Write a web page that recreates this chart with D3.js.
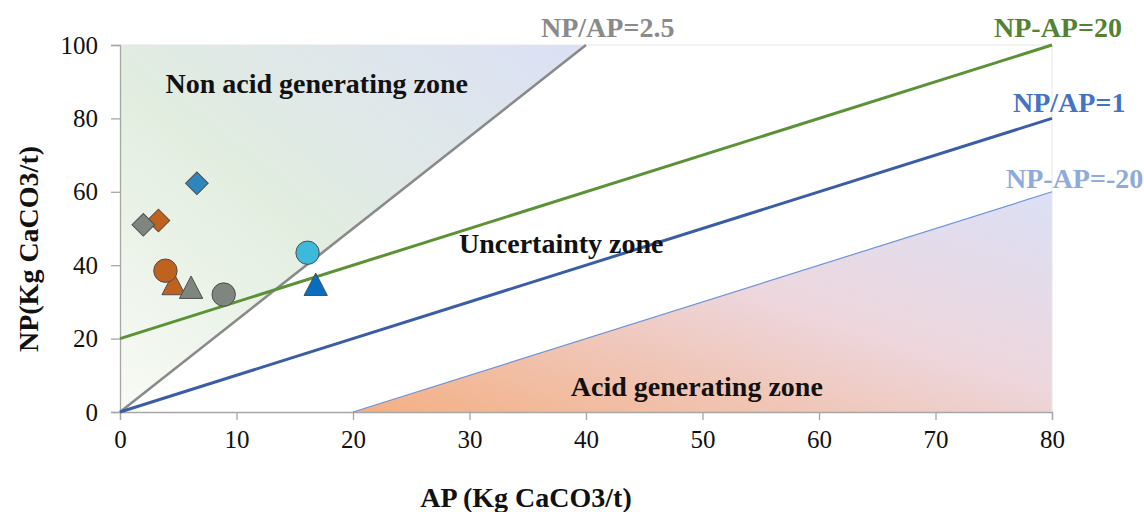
<!DOCTYPE html>
<html>
<head>
<meta charset="utf-8">
<script src="https://cdn.jsdelivr.net/npm/d3@7"></script>
<style>
  body { margin: 0; background: #fff; }
  text { font-family: "Liberation Serif", "Times New Roman", serif; }
</style>
</head>
<body>
<div class="svg"></div>
<script>
// samples (AP, NP in kg CaCO3/t), drawn in this order
var sampleAP    = [6.6, 3.3, 2.0, 4.6, 3.9, 6.1, 8.9, 16.1, 16.8];
var sampleNP    = [62.3, 52.2, 51.0, 35.0, 38.5, 34.0, 32.0, 43.4, 34.8];
var sampleShape = ['diamond', 'diamond', 'diamond', 'triangle', 'circle', 'triangle', 'circle', 'circle', 'triangle'];
var sampleColor = ['#2E86BE', '#C0621F', '#7F857F', '#C0621F', '#C0621F', '#7F857F', '#7F857F', '#3DBAD9', '#0A6EC0'];

// criteria lines, end points in data units
var lineNames = ['NP/AP=2.5', 'NP-AP=20', 'NP/AP=1', 'NP-AP=-20'];
var lineAP    = [[0, 40], [0, 80], [0, 80], [20, 80]];
var lineNP    = [[0, 100], [20, 100], [0, 80], [0, 60]];

// zones
var zoneNames = ['Non acid generating zone', 'Uncertainty zone', 'Acid generating zone'];
var zoneAP    = [3.9, 29.1, 38.7];
var zoneNP    = [86.8, 43.3, 4.3];

var xTicks = [0, 10, 20, 30, 40, 50, 60, 70, 80];
var yTicks = [0, 20, 40, 60, 80, 100];

var W = 1144, H = 512;
var m = { top: 45, right: 92, bottom: 100, left: 120 };

var x = d3.scaleLinear().domain([0, 80]).range([m.left, W - m.right]);
var y = d3.scaleLinear().domain([0, 100]).range([H - m.bottom, m.top]);

var svg = d3.select('div.svg').append('svg')
  .attr('width', W).attr('height', H);

var defs = svg.append('defs');
function grad(id, stops) {
  var g = defs.append('linearGradient').attr('id', id)
    .attr('x1', '0%').attr('y1', '100%').attr('x2', '100%').attr('y2', '0%');
  stops.forEach(function (s) {
    g.append('stop').attr('offset', s[0]).attr('stop-color', s[1]);
  });
}
grad('gGreen', [[0, '#F8FBF5'], [0.45, '#E2EDE0'], [1, '#DBE0F5']]);
grad('gAcid', [[0, '#F4AF82'], [0.55, '#EDD6DC'], [1, '#DCE0F6']]);

// zone areas
var line = d3.line().x(function (d) { return x(d[0]); }).y(function (d) { return y(d[1]); });
svg.append('path')
  .attr('d', line([[lineAP[0][0], lineNP[0][0]], [0, 100], [lineAP[0][1], lineNP[0][1]]]) + 'Z')
  .attr('fill', 'url(#gGreen)');
svg.append('path')
  .attr('d', line([[lineAP[3][0], lineNP[3][0]], [80, 0], [lineAP[3][1], lineNP[3][1]]]) + 'Z')
  .attr('fill', 'url(#gAcid)');

// faint plot border top/right
svg.append('path')
  .attr('d', line([[0, 100], [80, 100], [80, 0]]))
  .attr('fill', 'none').attr('stroke', '#E6E6E6').attr('stroke-width', 1);

// axes
var xAxis = svg.append('g').attr('transform', 'translate(0,' + y(0) + ')')
  .call(d3.axisBottom(x).tickValues(xTicks).tickSize(8).tickPadding(10));
var yAxis = svg.append('g').attr('transform', 'translate(' + x(0) + ',0)')
  .call(d3.axisLeft(y).tickValues(yTicks).tickSize(9).tickPadding(13));
[xAxis, yAxis].forEach(function (a) {
  a.attr('font-family', '"Liberation Serif", serif');
  a.select('.domain').attr('stroke', '#A6A6A6').attr('stroke-width', 1.3);
  a.selectAll('.tick line').attr('stroke', '#A6A6A6').attr('stroke-width', 1.3);
  a.selectAll('.tick text').attr('font-size', 25).attr('fill', '#111')
    .style('font-family', '"Liberation Serif", serif');
});

// criteria lines
var lineStyle = [
  { stroke: '#8A8A8A', width: 2.6, text: '#8A8A8A', dx: -45, dy: -8 },
  { stroke: '#5B9235', width: 3, text: '#548235', dx: -58, dy: -8 },
  { stroke: '#3A5DA6', width: 3, text: '#4472C4', dx: -39, dy: -6 },
  { stroke: '#6E93D8', width: 1.2, text: '#8FAADC', dx: -46, dy: -4 }
];
lineNames.forEach(function (name, i) {
  var pts = [[lineAP[i][0], lineNP[i][0]], [lineAP[i][1], lineNP[i][1]]];
  svg.append('path').attr('d', line(pts))
    .attr('fill', 'none')
    .attr('stroke', lineStyle[i].stroke)
    .attr('stroke-width', lineStyle[i].width);
  svg.append('text')
    .attr('x', x(lineAP[i][1]) + lineStyle[i].dx)
    .attr('y', y(lineNP[i][1]) + lineStyle[i].dy)
    .attr('font-size', 28).attr('font-weight', 'bold')
    .attr('fill', lineStyle[i].text)
    .text(name);
});

// zone labels
svg.selectAll('text.zone')
  .data(zoneNames)
  .enter()
  .append('text')
  .attr('class', 'zone')
  .attr('x', function (d, i) { return x(zoneAP[i]); })
  .attr('y', function (d, i) { return y(zoneNP[i]); })
  .attr('font-size', 28).attr('font-weight', 'bold').attr('fill', '#111')
  .text(function (d) { return d; });

// markers
var triangle = {
  draw: function (ctx, size) {
    var w = Math.sqrt(size) * 1.15, h = w * 0.96;
    ctx.moveTo(0, -h / 2);
    ctx.lineTo(w / 2, h / 2);
    ctx.lineTo(-w / 2, h / 2);
    ctx.closePath();
  }
};
function shapeOf(s) {
  if (s == 'circle') { return d3.symbol().type(d3.symbolCircle).size(430)(); }
  if (s == 'diamond') { return d3.symbol().type(d3.symbolSquare).size(255)(); }
  return d3.symbol().type(triangle).size(410)();
}
svg.selectAll('path.pt')
  .data(sampleAP)
  .enter()
  .append('path')
  .attr('class', 'pt')
  .attr('d', function (d, i) { return shapeOf(sampleShape[i]); })
  .attr('transform', function (d, i) {
    return 'translate(' + x(d) + ',' + y(sampleNP[i]) + ')' + (sampleShape[i] == 'diamond' ? ' rotate(45)' : '');
  })
  .attr('fill', function (d, i) { return sampleColor[i]; })
  .attr('stroke', '#4D4D4D').attr('stroke-width', 1);

// axis titles
svg.append('text')
  .attr('x', 526).attr('y', 507)
  .attr('text-anchor', 'middle')
  .attr('font-size', 28).attr('font-weight', 'bold').attr('fill', '#111')
  .text('AP (Kg CaCO3/t)');
svg.append('text')
  .attr('transform', 'translate(38,249) rotate(-90)')
  .attr('text-anchor', 'middle')
  .attr('font-size', 28).attr('font-weight', 'bold').attr('fill', '#111')
  .text('NP(Kg CaCO3/t)');
</script>
</body>
</html>
